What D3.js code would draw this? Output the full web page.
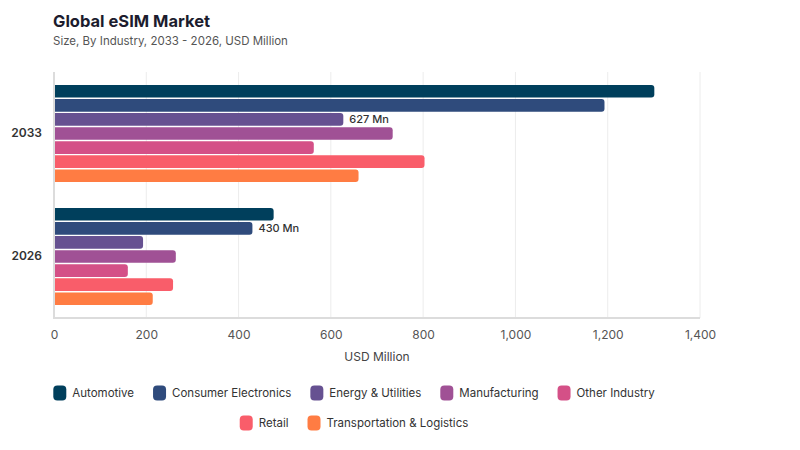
<!DOCTYPE html>
<html>
<head>
<meta charset="utf-8">
<script src="https://cdn.jsdelivr.net/npm/d3@7"></script>
<style>
  body { margin: 0; background: #fff; }
  svg { font-family: Inter, "Open Sans", sans-serif; }
</style>
</head>
<body>
<svg id="chart" width="800" height="450"></svg>
<script>
const years = ["2033", "2026"];
const industries = ["Automotive", "Consumer Electronics", "Energy & Utilities", "Manufacturing", "Other Industry", "Retail", "Transportation & Logistics"];
const values2033 = [1301, 1193, 627, 734, 563, 803, 660];
const values2026 = [476, 430, 193, 264, 160, 258, 214];
const colors = ["#003f5c", "#2f4b7c", "#665191", "#a05195", "#d45087", "#f95d6a", "#ff7c43"];
const xTicks = [0, 200, 400, 600, 800, 1000, 1200, 1400];
const valueLabels = [
  { year: "2033", industry: "Energy & Utilities", text: "627 Mn" },
  { year: "2026", industry: "Consumer Electronics", text: "430 Mn" }
];

const seriesByYear = { "2033": values2033, "2026": values2026 };
const rows = [];
years.forEach(y => industries.forEach((ind, i) => rows.push({ year: y, industry: ind, value: seriesByYear[y][i] })));

const svg = d3.select("#chart");
const margin = { left: 54, right: 100, top: 72, bottom: 132 };
const W = 800, H = 450;

const x = d3.scaleLinear().domain([0, 1400]).range([margin.left, W - margin.right]);
const y0 = d3.scaleBand().domain(years).range([margin.top, H - margin.bottom]).paddingInner(0.21).paddingOuter(0.105);
const y1 = d3.scaleBand().domain(industries).range([0, y0.bandwidth()]).paddingInner(0.1).paddingOuter(0);
const color = d3.scaleOrdinal().domain(industries).range(colors);

// Title
svg.append("text").attr("x", 53).attr("y", 27).attr("font-size", 16.5).attr("font-weight", 700).attr("fill", "#1c1c2e").text("Global eSIM Market");
svg.append("text").attr("x", 53).attr("y", 45).attr("font-size", 11.5).attr("fill", "#555").text("Size, By Industry, 2033 - 2026, USD Million");

// Gridlines
svg.append("g").selectAll("line").data(xTicks).join("line")
  .attr("x1", d => x(d)).attr("x2", d => x(d))
  .attr("y1", margin.top).attr("y2", H - margin.bottom)
  .attr("stroke", "#ececec").attr("stroke-width", 1);

// Bars
const g = svg.append("g");
const groups = g.selectAll("g.year").data(years).join("g").attr("transform", d => `translate(0,${y0(d)})`);
groups.selectAll("path").data(yr => rows.filter(r => r.year === yr)).join("path")
  .attr("fill", d => color(d.industry))
  .attr("d", d => {
    const x0 = x(0), x1v = x(d.value), yy = y1(d.industry), h = y1.bandwidth(), r = 3;
    return `M${x0},${yy}H${x1v - r}Q${x1v},${yy} ${x1v},${yy + r}V${yy + h - r}Q${x1v},${yy + h} ${x1v - r},${yy + h}H${x0}Z`;
  });

// Value labels
svg.append("g").selectAll("text").data(valueLabels).join("text")
  .attr("x", d => x(seriesByYear[d.year][industries.indexOf(d.industry)]) + 6)
  .attr("y", d => y0(d.year) + y1(d.industry) + y1.bandwidth() / 2)
  .attr("dy", "0.35em").attr("font-size", 11).attr("font-weight", 500).attr("fill", "#333")
  .text(d => d.text);

// Axes lines
svg.append("line").attr("x1", x(0)).attr("x2", x(0)).attr("y1", margin.top).attr("y2", H - margin.bottom)
  .attr("stroke", "#dcdcdc").attr("stroke-width", 2);
svg.append("line").attr("x1", x(0) - 1).attr("x2", x(1400)).attr("y1", H - margin.bottom).attr("y2", H - margin.bottom)
  .attr("stroke", "#dcdcdc").attr("stroke-width", 2);

// X axis
const xAxis = d3.axisBottom(x).tickValues(xTicks).tickSize(0).tickPadding(12).tickFormat(d3.format(","));
const xa = svg.append("g").attr("transform", `translate(0,${H - margin.bottom})`).call(xAxis);
xa.select(".domain").remove();
xa.selectAll("text").attr("font-size", 12).attr("fill", "#555").attr("font-family", "Inter, sans-serif");
svg.append("text").attr("x", x(700)).attr("y", 361).attr("text-anchor", "middle").attr("font-size", 12).attr("fill", "#444").text("USD Million");

// Y axis labels
const yAxis = d3.axisLeft(y0).tickSize(0).tickPadding(12);
const ya = svg.append("g").attr("transform", `translate(${x(0)},0)`).call(yAxis);
ya.select(".domain").remove();
ya.selectAll("text").attr("font-size", 12).attr("font-weight", 600).attr("fill", "#333").attr("font-family", "Inter, sans-serif");

// Legend
const legendRows = [industries.slice(0, 5), industries.slice(5)];
const legendY = [393, 423];
const legendCenter = 354;
legendRows.forEach((items, ri) => {
  const lg = svg.append("g");
  let cx = 0;
  items.forEach(name => {
    const it = lg.append("g").attr("transform", `translate(${cx},0)`);
    it.append("rect").attr("x", 0).attr("y", -7.5).attr("width", 13).attr("height", 15).attr("rx", 4)
      .attr("fill", color(name));
    const t = it.append("text").attr("x", 19).attr("y", 0).attr("dy", "0.35em").attr("font-size", 11.5)
      .attr("fill", "#333").text(name);
    cx += 19 + t.node().getComputedTextLength() + 19;
  });
  const total = cx - 19;
  lg.attr("transform", `translate(${legendCenter - total / 2},${legendY[ri]})`);
});
</script>
</body>
</html>
